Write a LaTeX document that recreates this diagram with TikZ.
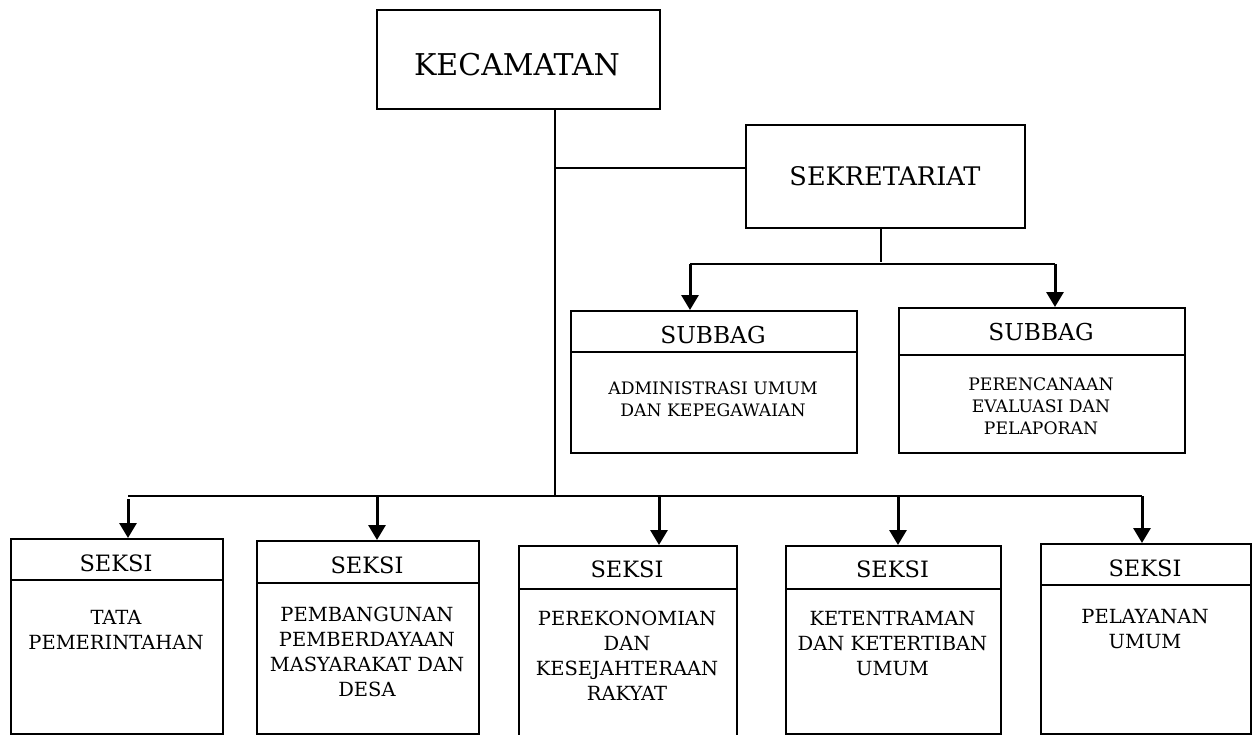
\documentclass[tikz,border=0pt]{standalone}
\usepackage{fontspec}
\setmainfont{DejaVu Serif}
\usetikzlibrary{arrows.meta,calc}
\begin{document}
\begin{tikzpicture}[x=1pt,y=-1pt,
  box/.style={draw, line width=1.6pt, inner sep=0pt, anchor=north west},
  divl/.style={line width=1.6pt},
  conn/.style={line width=1.8pt},
  arr/.style={line width=3pt, -{Triangle[width=17pt,length=15pt]}},
  hd/.style={inner sep=0pt, font=\fontsize{22.5}{27}\selectfont},
  bd/.style={inner sep=0pt, anchor=north, align=center, font=\fontsize{19.5}{25}\selectfont},
  sbhd/.style={inner sep=0pt, font=\fontsize{23.3}{28}\selectfont},
  sbbd/.style={inner sep=0pt, anchor=north, align=center, font=\fontsize{17.2}{21.8}\selectfont}]
\useasboundingbox (0,0) rectangle (1252,734);
\clip (0,0) rectangle (1252,734);

% main boxes
\node[box, minimum width=283pt, minimum height=99pt] (K) at (376,9) {};
\node[inner sep=0pt, font=\fontsize{30}{36}\selectfont] (Kt) at (517,65) {KECAMATAN};
\node[box, minimum width=279pt, minimum height=103pt] (S) at (745,124) {};
\node[inner sep=0pt, font=\fontsize{25.6}{30}\selectfont] (St) at (885,176) {SEKRETARIAT};

% subbag boxes
\node[box, minimum width=286pt, minimum height=142pt] (B1) at (570,310) {};
\draw[divl] ($(B1.north west)+(0,42)$) -- ($(B1.north east)+(0,42)$);
\node[sbhd] (B1h) at (713,335.5) {SUBBAG};
\node[sbbd] (B1b) at (713,382) {ADMINISTRASI UMUM\\DAN KEPEGAWAIAN};

\node[box, minimum width=286pt, minimum height=145pt] (B2) at (898,307) {};
\draw[divl] ($(B2.north west)+(0,48)$) -- ($(B2.north east)+(0,48)$);
\node[sbhd] (B2h) at (1041,331.7) {SUBBAG};
\node[sbbd] (B2b) at (1041,378) {PERENCANAAN\\EVALUASI DAN\\PELAPORAN};

% seksi boxes
\node[box, minimum width=212pt, minimum height=195pt] (S1) at (10,538) {};
\draw[divl] ($(S1.north west)+(0,42)$) -- ($(S1.north east)+(0,42)$);
\node[hd] (S1h) at (116,563.7) {SEKSI};
\node[bd] (S1b) at (116,610.5) {TATA\\PEMERINTAHAN};

\node[box, minimum width=222pt, minimum height=193pt] (S2) at (256,540) {};
\draw[divl] ($(S2.north west)+(0,43)$) -- ($(S2.north east)+(0,43)$);
\node[hd] (S2h) at (367,565.7) {SEKSI};
\node[bd] (S2b) at (367,607) {PEMBANGUNAN\\PEMBERDAYAAN\\MASYARAKAT DAN\\DESA};

\node[box, minimum width=218pt, minimum height=200pt] (S3) at (518,545) {};
\draw[divl] ($(S3.north west)+(0,44)$) -- ($(S3.north east)+(0,44)$);
\node[hd] (S3h) at (627,569.5) {SEKSI};
\node[bd] (S3b) at (627,611) {PEREKONOMIAN\\DAN\\KESEJAHTERAAN\\RAKYAT};

\node[box, minimum width=215pt, minimum height=188pt] (S4) at (785,545) {};
\draw[divl] ($(S4.north west)+(0,44)$) -- ($(S4.north east)+(0,44)$);
\node[hd] (S4h) at (892.5,569.5) {SEKSI};
\node[bd] (S4b) at (892.5,611) {KETENTRAMAN\\DAN KETERTIBAN\\UMUM};

\node[box, minimum width=210pt, minimum height=190pt] (S5) at (1040,543) {};
\draw[divl] ($(S5.north west)+(0,42)$) -- ($(S5.north east)+(0,42)$);
\node[hd] (S5h) at (1145,568) {SEKSI};
\node[bd] (S5b) at (1145,609) {PELAYANAN\\UMUM};

% junction coordinates
\coordinate (kt) at (555,108);
\coordinate (kb) at (555,168);
\coordinate (bar) at (555,496);
\coordinate (sb) at (881,227);
\coordinate (sbar) at (881,262);
\coordinate (sl) at (690,264);
\coordinate (sr) at (1055,264);
\coordinate (b1) at (128,496);
\coordinate (b2) at (377,496);
\coordinate (b3) at (659,496);
\coordinate (b4) at (898,496);
\coordinate (b5) at (1142,496);

% connectors
\draw[conn] (K.south -| kt) -- (bar);
\draw[conn] (kb) -- (S.west |- kb);
\draw[conn] (S.south -| sb) -- (sbar);
\draw[conn] (sl) -- (sr);
\draw[arr] (sl) -- (B1.north -| sl);
\draw[arr] (sr) -- (B2.north -| sr);
\draw[conn] (b1) -- (b5);
\draw[arr] ($(b1)+(0,3)$) -- (S1.north -| b1);
\draw[arr] (b2) -- (S2.north -| b2);
\draw[arr] (b3) -- (S3.north -| b3);
\draw[arr] (b4) -- (S4.north -| b4);
\draw[arr] (b5) -- (S5.north -| b5);
\end{tikzpicture}
\end{document}
